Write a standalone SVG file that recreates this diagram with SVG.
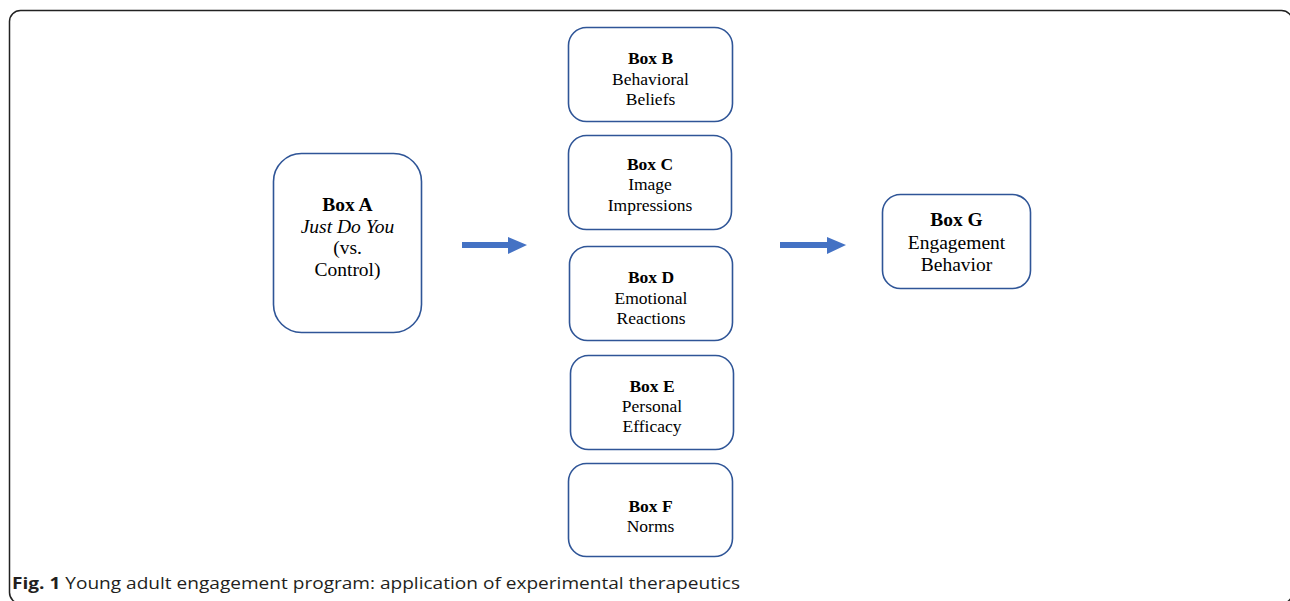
<svg xmlns="http://www.w3.org/2000/svg" width="1290" height="601" viewBox="0 0 1290 601">
<style>
.box{fill:#fff;stroke:#2F5597;stroke-width:1.6}
.t{font-family:"Liberation Serif","Times New Roman",serif;fill:#000;text-anchor:middle}
.s{font-size:17.5px}
.l{font-size:19.5px}
.b{font-weight:bold}
.arrow{fill:#4472C4}
.cap{font-family:"Open Sans","Liberation Sans",sans-serif;font-size:16px;fill:#231f20}
</style>
<rect x="9.5" y="10.5" width="1283" height="593" rx="11" fill="#fff" stroke="#222" stroke-width="1.5"/>
<g id="connectors">
<path class="arrow" d="M462,242 H508 V237 L527,245 L508,254 V248 H462 Z"/>
<path class="arrow" d="M780,242 H827 V237 L846,245 L827,254 V248 H780 Z"/>
</g>
<g id="boxA">
<rect class="box" x="273.5" y="153.5" width="148" height="179" rx="28"/>
<text class="t l b" x="347.5" y="211">Box A</text>
<text class="t l" x="347.5" y="233" font-style="italic">Just Do You</text>
<text class="t l" x="347.5" y="254">(vs.</text>
<text class="t l" x="347.5" y="275.5">Control)</text>
</g>
<g id="boxB">
<rect class="box" x="568.5" y="27.5" width="164" height="94" rx="18"/>
<text class="t s b" x="650.5" y="64">Box B</text>
<text class="t s" x="650.5" y="84.5">Behavioral</text>
<text class="t s" x="650.5" y="105">Beliefs</text>
</g>
<g id="boxC">
<rect class="box" x="568.5" y="135.5" width="163" height="94" rx="18"/>
<text class="t s b" x="650" y="170">Box C</text>
<text class="t s" x="650" y="190">Image</text>
<text class="t s" x="650" y="210.5">Impressions</text>
</g>
<g id="boxD">
<rect class="box" x="569.5" y="246.5" width="163" height="94" rx="18"/>
<text class="t s b" x="651" y="283">Box D</text>
<text class="t s" x="651" y="303.5">Emotional</text>
<text class="t s" x="651" y="324">Reactions</text>
</g>
<g id="boxE">
<rect class="box" x="570.5" y="355.5" width="163" height="94" rx="18"/>
<text class="t s b" x="652" y="391.5">Box E</text>
<text class="t s" x="652" y="411.5">Personal</text>
<text class="t s" x="652" y="432">Efficacy</text>
</g>
<g id="boxF">
<rect class="box" x="568.5" y="463.5" width="164" height="93" rx="18"/>
<text class="t s b" x="650.5" y="512">Box F</text>
<text class="t s" x="650.5" y="532">Norms</text>
</g>
<g id="boxG">
<rect class="box" x="882.5" y="194.5" width="148" height="94" rx="18"/>
<text class="t l b" x="956.5" y="226">Box G</text>
<text class="t l" x="956.5" y="248.5">Engagement</text>
<text class="t l" x="956.5" y="271">Behavior</text>
</g>
<text class="cap" x="12" y="589" textLength="728" lengthAdjust="spacingAndGlyphs"><tspan font-weight="bold">Fig. 1</tspan> Young adult engagement program: application of experimental therapeutics</text>
</svg>
